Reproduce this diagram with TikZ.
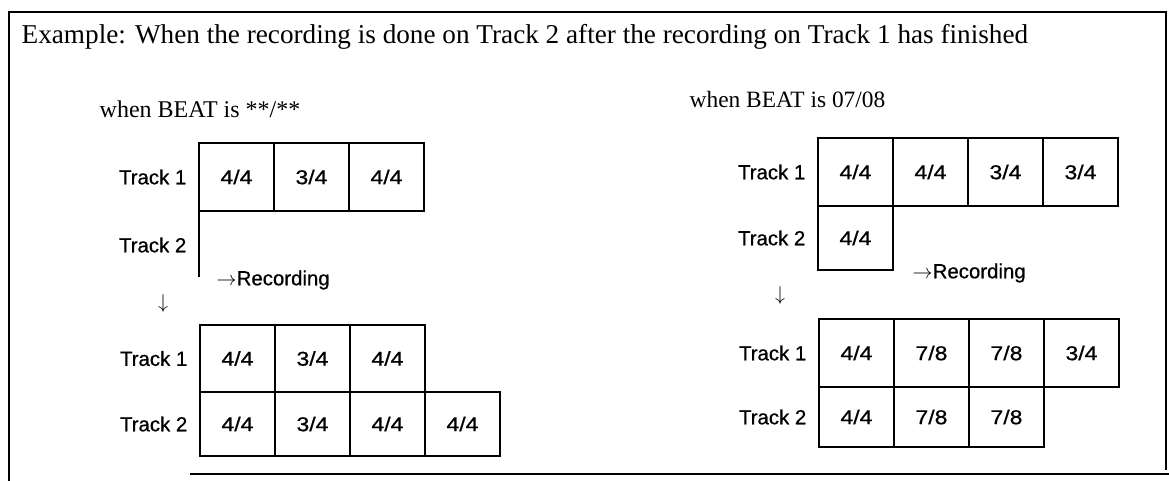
\documentclass[tikz,border=0pt]{standalone}
\usepackage{fontspec}
\setmainfont{Liberation Serif}
\newfontfamily\trkfont[FakeBold=0.6]{Liberation Sans}
\newfontfamily\cellfont[FakeStretch=1.15,FakeBold=0.8]{Liberation Sans}
\usetikzlibrary{positioning}

\begin{document}
\begin{tikzpicture}[x=0.5pt,y=-0.5pt,line width=0.7pt,
  cell/.style={draw,outer sep=0pt,inner sep=0pt,minimum width=37.5pt,minimum height=34pt,font=\cellfont\fontsize{10}{12}\selectfont},
  trk/.style={font=\trkfont\fontsize{10.2}{12}\selectfont,inner sep=0pt},
  note/.style={font=\fontsize{12}{14}\selectfont,inner sep=0pt,anchor=base west}]
\useasboundingbox (0,0) rectangle (1169,481);
\draw (9,481) -- (9,12) -- (1166,12) -- (1166,470);
\draw (190,474) -- (1169,474);

\node[note,font=\fontsize{13.6}{16}\selectfont] (title) at (21,44) {Example: When the recording is done on Track 2 after the recording on Track 1 has finished};
\node[note] (lbeat) at (99,118) {when BEAT is **/**};
\node[note,font=\fontsize{11.7}{14}\selectfont] (rbeat) at (689,108) {when BEAT is 07/08};

\node[cell,anchor=north west] (la1) at (199,143) {4/4};
\node[cell,right=0pt of la1] (la2) {3/4};
\node[cell,right=0pt of la2] (la3) {4/4};
\node[trk,left=6pt of la1] (lt1) {Track 1};
\coordinate (lgap) at (199,277);
\draw (la1.south west) -- (lgap);
\node[trk,anchor=east] (lt2) at (187,245) {Track 2};
\node[trk,anchor=west] (lrec) at (216,280) {$\rightarrow$Recording};
\node[trk] (ldown) at (163,303) {$\downarrow$};

\node[cell,anchor=north west,minimum height=33.5pt] (lb1) at (200,325) {4/4};
\node[cell,right=0pt of lb1,minimum height=33.5pt] (lb2) {3/4};
\node[cell,right=0pt of lb2,minimum height=33.5pt] (lb3) {4/4};
\node[cell,below=0pt of lb1,minimum height=32pt] (lc1) {4/4};
\node[cell,right=0pt of lc1,minimum height=32pt] (lc2) {3/4};
\node[cell,right=0pt of lc2,minimum height=32pt] (lc3) {4/4};
\node[cell,right=0pt of lc3,minimum height=32pt] (lc4) {4/4};
\node[trk,left=6pt of lb1] (lt3) {Track 1};
\node[trk,left=6pt of lc1] (lt4) {Track 2};

\node[cell,anchor=north west] (ra1) at (818,138) {4/4};
\node[cell,right=0pt of ra1] (ra2) {4/4};
\node[cell,right=0pt of ra2] (ra3) {3/4};
\node[cell,right=0pt of ra3] (ra4) {3/4};
\node[cell,below=0pt of ra1,minimum height=32pt] (rb1) {4/4};
\node[trk,left=6pt of ra1] (rt1) {Track 1};
\node[trk,left=6pt of rb1] (rt2) {Track 2};
\node[trk,anchor=west] (rrec) at (912,273) {$\rightarrow$Recording};
\node[trk] (rdown) at (780,295) {$\downarrow$};

\node[cell,anchor=north west] (rc1) at (819,319) {4/4};
\node[cell,right=0pt of rc1] (rc2) {7/8};
\node[cell,right=0pt of rc2] (rc3) {7/8};
\node[cell,right=0pt of rc3] (rc4) {3/4};
\node[cell,below=0pt of rc1,minimum height=30pt] (rd1) {4/4};
\node[cell,right=0pt of rd1,minimum height=30pt] (rd2) {7/8};
\node[cell,right=0pt of rd2,minimum height=30pt] (rd3) {7/8};
\node[trk,left=6pt of rc1] (rt3) {Track 1};
\node[trk,left=6pt of rd1] (rt4) {Track 2};
\end{tikzpicture}
\end{document}
